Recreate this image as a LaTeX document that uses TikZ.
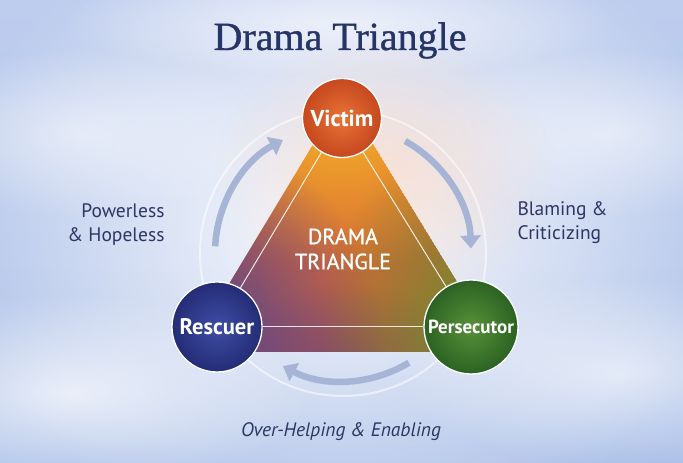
\documentclass[tikz,border=0pt]{standalone}
\usepackage{fontspec}
\setmainfont{PT Sans}
\newfontfamily\titlefont[FakeBold=0.9]{Liberation Serif}
\newfontfamily\semifont[FakeBold=1.0]{PT Sans}
\usetikzlibrary{arrows.meta,fadings,shadings}
\definecolor{bgtop}{RGB}{190,205,238}
\definecolor{bgbot}{RGB}{172,192,232}
\definecolor{navy}{RGB}{38,52,102}
\definecolor{lbltxt}{RGB}{45,55,100}
\definecolor{arrowc}{RGB}{166,180,214}
\definecolor{vicin}{RGB}{232,115,52}
\definecolor{vicout}{RGB}{198,72,32}
\definecolor{resin}{RGB}{62,78,165}
\definecolor{resout}{RGB}{36,44,118}
\definecolor{perin}{RGB}{88,145,58}
\definecolor{perout}{RGB}{44,98,34}
\definecolor{tribase}{RGB}{214,104,56}
\definecolor{tritop}{RGB}{250,186,36}
\definecolor{tribot}{RGB}{140,74,98}
\definecolor{trileft}{RGB}{72,62,152}
\definecolor{triright}{RGB}{92,142,46}
\definecolor{warm}{RGB}{255,214,190}
\tikzfading[name=softout, inner color=transparent!0, outer color=transparent!100]
\tikzset{
  rolecirc/.style={circle, draw=white, line width=1.3pt, inner sep=0pt, shading=radial, text=white},
  tline/.style={draw=white, opacity=0.85, line width=1pt},
  cyclearrow/.style={draw=arrowc, line width=6.5pt, -{Triangle[length=13pt,width=20pt]}},
  lbl/.style={text=lbltxt, font=\fontsize{19.5}{24}\selectfont},
  cloud/.style={fill=white, path fading=softout},
  blob/.style={path fading=softout}
}
\begin{document}
\begin{tikzpicture}[x=1pt,y=1pt]
\useasboundingbox (0,0) rectangle (683,463);
% background sky
\shade[top color=bgtop, bottom color=bgbot] (0,0) rectangle (683,463);
\fill[cloud, opacity=0.95] (343,240) ellipse [x radius=400, y radius=320];
\fill[cloud, opacity=0.7] (70,70) ellipse [x radius=240, y radius=100];
\fill[cloud, opacity=0.6] (620,90) ellipse [x radius=220, y radius=95];
\fill[cloud, opacity=0.5] (80,330) ellipse [x radius=200, y radius=85];
\fill[cloud, opacity=0.5] (610,330) ellipse [x radius=190, y radius=85];
\fill[cloud, opacity=0.55] (340,440) ellipse [x radius=280, y radius=55];
\fill[warm, path fading=softout, opacity=0.6] (385,290) ellipse [x radius=170, y radius=140];
% centre of the cycle
\coordinate (ctr) at (343,210);
\draw[white, opacity=0.55, line width=2pt] (ctr) circle [radius=143];
% triangle
\coordinate (ta) at (343,368);
\coordinate (tl) at (188,111);
\coordinate (tr) at (500,111);
\begin{scope}
  \clip (ta) -- (tl) -- (tr) -- cycle;
  \fill[tribase] (ta) -- (tl) -- (tr) -- cycle;
  \fill[tritop, blob] (343,365) ellipse [x radius=185, y radius=175];
  \fill[tribot, blob, opacity=0.8] (350,100) ellipse [x radius=130, y radius=80];
  \fill[trileft, blob] (192,125) ellipse [x radius=190, y radius=200];
  \fill[triright, blob] (498,130) ellipse [x radius=180, y radius=205];
\end{scope}
% role circles
\node[rolecirc, minimum size=79pt, inner color=vicin, outer color=vicout,
      font=\bfseries\fontsize{23}{23}\selectfont] (victim) at (342,345) {Victim};
\node[rolecirc, minimum size=90pt, inner color=resin, outer color=resout,
      font=\bfseries\fontsize{22.5}{23}\selectfont] (rescuer) at (217,136) {Rescuer};
\node[rolecirc, minimum size=94pt, inner color=perin, outer color=perout,
      font=\bfseries\fontsize{19}{19}\selectfont] (persecutor) at (471,136) {Persecutor};
% inner lines
\draw[tline] (victim) -- (rescuer);
\draw[tline] (victim) -- (persecutor);
\draw[tline] (rescuer) -- (persecutor);
% centre text
\node[text=white, font=\semifont\fontsize{22}{25}\selectfont, align=center] (drama) at (343,214) {DRAMA\\TRIANGLE};
% cycle arrows
\draw[cyclearrow] ([shift={(177:128)}]ctr) arc[start angle=177, end angle=118, radius=128];
\draw[cyclearrow] ([shift={(61:128)}]ctr) arc[start angle=61, end angle=2, radius=128];
\draw[cyclearrow] ([shift={(-59:128)}]ctr) arc[start angle=-59, end angle=-118, radius=128];
% labels
\node[text=navy, font=\titlefont\fontsize{40}{40}\selectfont, anchor=base] (title) at (340,413) {Drama Triangle};
\node[lbl, align=right, anchor=east] (powerless) at (168,238) {Powerless\\\& Hopeless};
\node[lbl, align=left, anchor=west] (blaming) at (514,240) {Blaming \&\\Criticizing};
\node[lbl, font=\itshape\fontsize{19.5}{24}\selectfont, anchor=base] (overhelp) at (341,26) {Over-Helping \& Enabling};
\end{tikzpicture}
\end{document}
